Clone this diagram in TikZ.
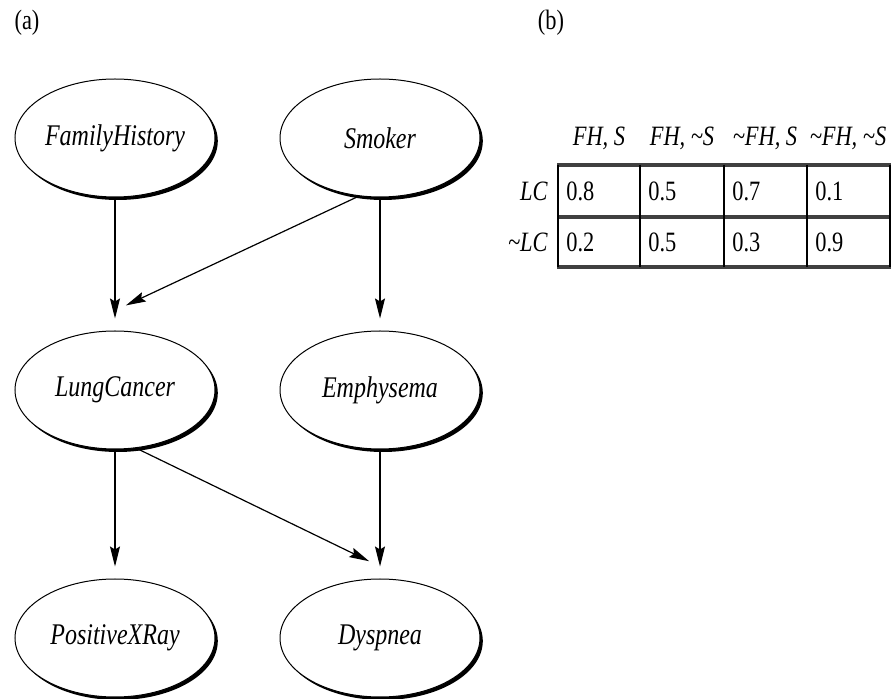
\documentclass[tikz,border=0pt]{standalone}
\usepackage{fontspec}
\setmainfont{Liberation Serif}
\newfontfamily\netfont[FakeStretch=0.8]{Liberation Serif}
\usetikzlibrary{shapes.geometric,arrows.meta,shadows}

\begin{document}
\begin{tikzpicture}[x=0.5pt, y=-0.5pt,
    var/.style={ellipse, draw, line width=0.5pt, fill=white, minimum width=100pt, minimum height=59pt, inner sep=0pt,
      font=\netfont\itshape\fontsize{15}{18}\selectfont,
      drop shadow={shadow xshift=1.4pt, shadow yshift=-1.5pt, fill=black, opacity=1}},
    link/.style={-{Stealth[length=10pt, width=5pt, inset=1.5pt]}, line width=0.6pt, shorten >=6pt},
    head/.style={font=\netfont\itshape\fontsize{14}{16}\selectfont, inner sep=1pt},
    val/.style={font=\netfont\fontsize{14}{16}\selectfont, inner sep=1pt, anchor=west},
    tabv/.style={line width=1.1pt, black},
    tabh/.style={line width=1.6pt, black!75}]

    \useasboundingbox (0,0) rectangle (894,699);

    % panel labels
    \node[font=\netfont\fontsize{14}{16}\selectfont] (lbla) at (27,23) {(a)};
    \node[font=\netfont\fontsize{14}{16}\selectfont] (lblb) at (551,23) {(b)};

    % network variables
    \node[var] (fh)  at (115,138) {FamilyHistory};
    \node[var] (smk) at (380,138) {Smoker};
    \node[var] (lc)  at (115,390) {LungCancer};
    \node[var] (emp) at (380,390) {Emphysema};
    \node[var] (pxr) at (115,638) {PositiveXRay};
    \node[var] (dys) at (380,638) {Dyspnea};

    % dependencies
    \draw[link] (fh.south) -- (lc.north);
    \draw[link] (smk.250) -- ([yshift=10pt]lc.north);
    \draw[link] (smk.south) -- (emp.north);
    \draw[link] (lc.south) -- (pxr.north);
    \draw[link] (lc.290) -- ([yshift=6pt]dys.north);
    \draw[link] (emp.south) -- (dys.north);

    % conditional probability table for LungCancer
    \node[head] (hc1) at (599,138) {FH, S};
    \node[head] (hc2) at (682,138) {FH, \textasciitilde S};
    \node[head] (hc3) at (765,138) {\textasciitilde FH, S};
    \node[head] (hc4) at (848,138) {\textasciitilde FH, \textasciitilde S};
    \node[head, anchor=east] (rlc)  at (550,191) {LC};
    \node[head, anchor=east] (rnlc) at (550,242) {\textasciitilde LC};

    \foreach \cx/\p/\q [count=\i] in {558/0.8/0.2, 640/0.5/0.5, 724/0.7/0.3, 807/0.1/0.9} {
        \node[val] (pa\i) at (\cx+6,191) {\p};
        \node[val] (pb\i) at (\cx+6,242) {\q};
    }
    \foreach \y in {165,217,267}
        \draw[tabh] (557,\y) -- (891,\y);
    \foreach \x in {558,640,724,807,890}
        \draw[tabv] (\x,165) -- (\x,267);
\end{tikzpicture}
\end{document}
